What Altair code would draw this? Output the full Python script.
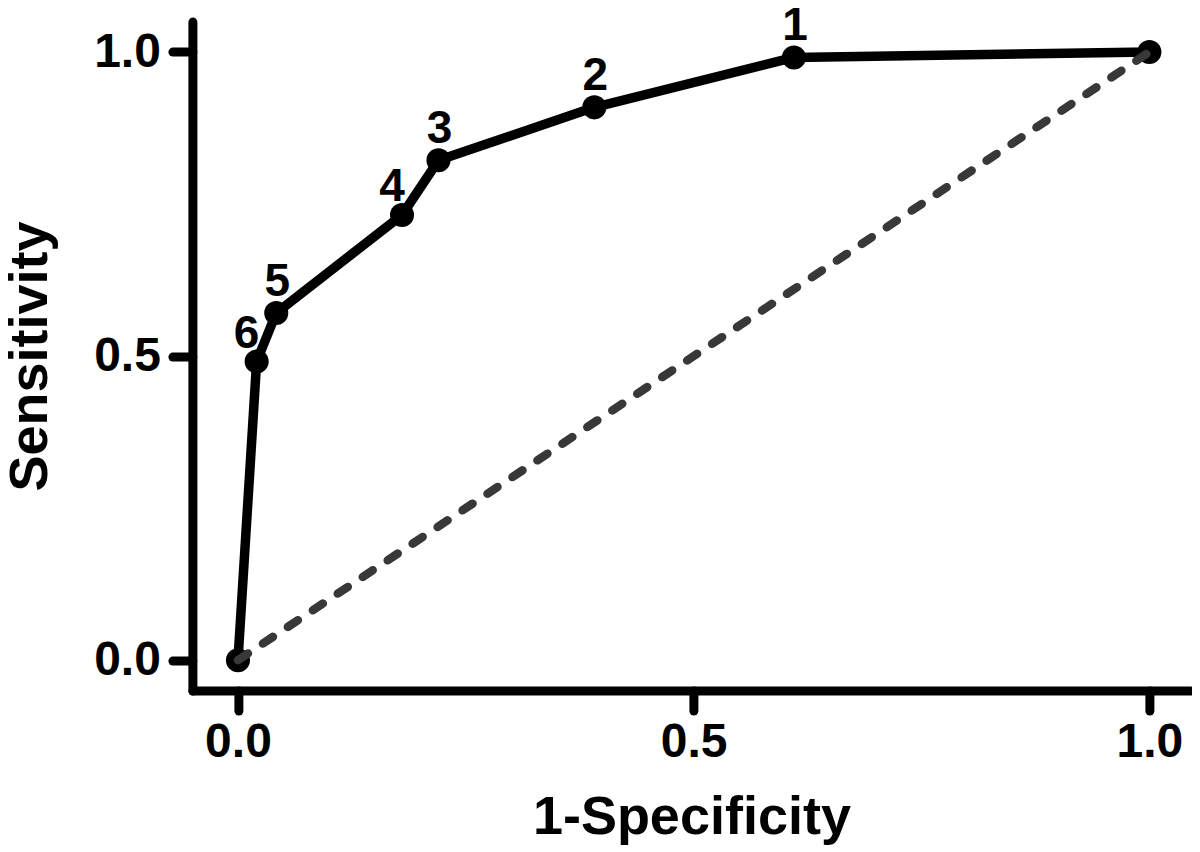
import altair as alt
import pandas as pd

# ROC points (1-Specificity, Sensitivity), from the origin to (1,1)
fpr = [0.0, 0.0205, 0.042, 0.180, 0.220, 0.391, 0.610, 1.0]
tpr = [0.0, 0.491, 0.571, 0.732, 0.822, 0.909, 0.991, 1.0]
point_labels = ["", "6", "5", "4", "3", "2", "1", ""]
diag = [0.0, 1.0]
tick_values = [0.0, 0.5, 1.0]

df = pd.DataFrame({"fpr": fpr, "tpr": tpr, "label": point_labels,
                   "order": list(range(len(fpr)))})
ddf = pd.DataFrame({"fpr": diag, "tpr": diag})

FONT = "Liberation Sans"

axis_common = dict(
    values=tick_values, format=".1f", grid=False,
    domainWidth=9, domainColor="black", domainCap="round",
    tickWidth=9, tickSize=20, tickCap="round", tickColor="black",
    labelFont=FONT, labelFontWeight="bold", labelFontSize=48,
    labelColor="black", labelFlush=False, labelOverlap=False,
    titleFont=FONT, titleFontWeight="bold", titleFontSize=54,
    titleColor="black",
)

x = alt.X("fpr:Q",
          scale=alt.Scale(domain=[-0.05, 1.045], nice=False, zero=False),
          axis=alt.Axis(title="1-Specificity", labelPadding=8,
                        titlePadding=24, **axis_common))
y = alt.Y("tpr:Q",
          scale=alt.Scale(domain=[-0.05, 1.05], nice=False, zero=False),
          axis=alt.Axis(title="Sensitivity", labelPadding=12,
                        titlePadding=36, **axis_common))

line = alt.Chart(df).mark_line(
    color="black", strokeWidth=9.5, strokeJoin="round", strokeCap="round"
).encode(x=x, y=y, order="order:Q")

points = alt.Chart(df).mark_circle(
    color="black", size=580, opacity=1
).encode(x=x, y=y)

dashed = alt.Chart(ddf).mark_line(
    color="#383838", strokeWidth=8.5, strokeDash=[12, 18], strokeCap="round"
).encode(x=x, y=y)

text_style = dict(font=FONT, fontWeight="bold", fontSize=46, color="black",
                  baseline="alphabetic", align="center")

labels_above = alt.Chart(df).transform_filter(
    "indexof(['1','2','3','5'], datum.label) >= 0"
).mark_text(dy=-17, dx=1, **text_style).encode(x=x, y=y, text="label:N")

labels_left = alt.Chart(df).transform_filter(
    "indexof(['4','6'], datum.label) >= 0"
).mark_text(dy=-14, dx=-10, **text_style).encode(x=x, y=y, text="label:N")

chart = alt.layer(line, points, dashed, labels_above, labels_left).properties(
    width=998, height=669,
    autosize=alt.AutoSizeParams(type="none"),
    padding={"left": 184.4, "top": 13.6, "right": 1.5, "bottom": 166},
    background="white",
).configure_view(stroke=None)

chart.save("out.html", embed_options={"renderer": "svg", "actions": False})
